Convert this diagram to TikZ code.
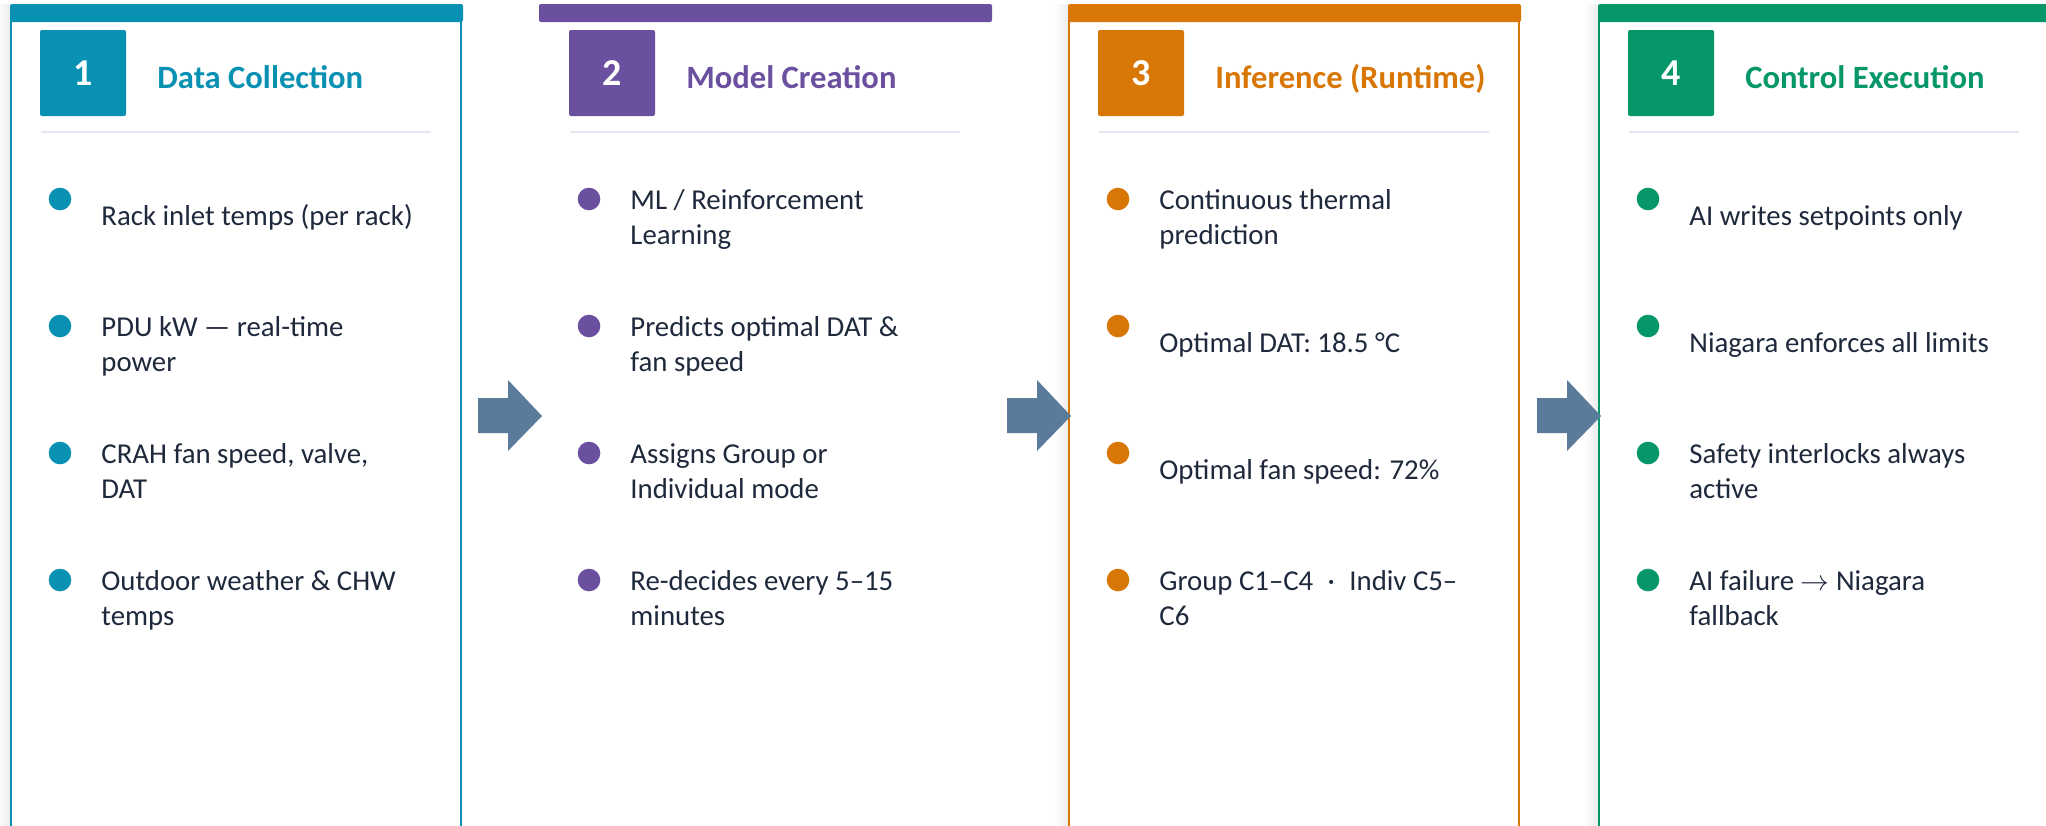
\documentclass[tikz,border=0pt]{standalone}
\usepackage{fontspec}
\setmainfont{Carlito}
\usetikzlibrary{calc, positioning}
\definecolor{stepteal}{HTML}{0891B2}
\definecolor{steppurple}{HTML}{6B50A0}
\definecolor{steporange}{HTML}{D97706}
\definecolor{stepgreen}{HTML}{059669}
\definecolor{arrowslate}{HTML}{5A7B9A}
\definecolor{textdark}{HTML}{1E293B}
\definecolor{sepgray}{HTML}{E2E8F0}

\begin{document}
\begin{tikzpicture}[x=0.5pt, y=-0.5pt,
    numbox/.style = {fill=#1, rounded corners=1pt, minimum size=43pt, inner sep=0pt,
        text=white, font=\fontsize{19}{23}\selectfont\bfseries},
    steptitle/.style = {anchor=base west, inner sep=0pt, text=#1,
        font=\fontsize{16.3}{20}\selectfont\bfseries},
    dot/.style = {circle, fill=#1, minimum size=11.3pt, inner sep=0pt},
    itemtext/.style = {anchor=north west, align=left, inner sep=0pt, text=textdark,
        font=\fontsize{14.4}{17.5}\selectfont, execute at begin node=\strut}]
    \useasboundingbox (0,0) rectangle (2046,825);

    % card frames (card 2 has only its top bar)
    \foreach \L/\col in {10/stepteal, 1068/steporange, 1598/stepgreen}{
        \shade[left color=white, right color=black!7] (\L-14,4) rectangle (\L,830);
        \fill[white] (\L,4) rectangle (\L+452,830);
        \draw[\col, line width=1.2pt] (\L+1,20) -- (\L+1,830);
        \draw[\col, line width=1.2pt] (\L+451,20) -- (\L+451,830);
    }
    \foreach \n/\L/\col/\ttl in {1/10/stepteal/Data Collection,
                                 2/539/steppurple/Model Creation,
                                 3/1068/steporange/Inference (Runtime),
                                 4/1598/stepgreen/Control Execution}{
        \fill[\col, rounded corners=1pt] (\L,4) rectangle (\L+453,22);
        \node[numbox=\col] (S\n) at (\L+73,73) {\n};
        \node[steptitle=\col] (T\n) at (\L+147,88) {\ttl};
        \draw[sepgray, line width=1pt] (\L+31,132) -- (\L+421,132);
    }

    % arrows between the cards
    \foreach \L in {539, 1068, 1598}{
        \fill[arrowslate] (\L-61,398) -- (\L-31,398) -- (\L-31,380) -- (\L+3,416)
            -- (\L-31,451) -- (\L-31,433) -- (\L-61,433) -- cycle;
    }

    % bullet lists (one-line items sit half a line lower)
    \foreach \dy/\t [count=\i] in {17/{Rack inlet temps (per rack)}, 6/{PDU kW — real-time\\power},
                               6/{CRAH fan speed, valve,\\DAT}, 6/{Outdoor weather \& CHW\\temps}}{
        \node[dot=stepteal] (B1-\i) at (60,{199+127*(\i-1)}) {};
        \node[itemtext] (I1-\i) at (101,{183.5+\dy+127*(\i-1)}) {\t};
    }
    \foreach \dy/\t [count=\i] in {6/{ML / Reinforcement\\Learning}, 6/{Predicts optimal DAT \&\\fan speed},
                               6/{Assigns Group or\\Individual mode}, 6/{Re-decides every 5–15\\minutes}}{
        \node[dot=steppurple] (B2-\i) at (589,{199+127*(\i-1)}) {};
        \node[itemtext] (I2-\i) at (630,{183.5+\dy+127*(\i-1)}) {\t};
    }
    \foreach \dy/\t [count=\i] in {6/{Continuous thermal\\prediction}, 17/{Optimal DAT: 18.5 °C},
                               17/{Optimal fan speed: 72\%}, 6/{Group C1–C4\enspace·\enspace Indiv C5–\\C6}}{
        \node[dot=steporange] (B3-\i) at (1118,{199+127*(\i-1)}) {};
        \node[itemtext] (I3-\i) at (1159,{183.5+\dy+127*(\i-1)}) {\t};
    }
    \foreach \dy/\t [count=\i] in {17/{AI writes setpoints only}, 17/{Niagara enforces all limits},
                               6/{Safety interlocks always\\active}, 6/{AI failure $\rightarrow$ Niagara\\fallback}}{
        \node[dot=stepgreen] (B4-\i) at (1648,{199+127*(\i-1)}) {};
        \node[itemtext] (I4-\i) at (1689,{183.5+\dy+127*(\i-1)}) {\t};
    }
\end{tikzpicture}
\end{document}
